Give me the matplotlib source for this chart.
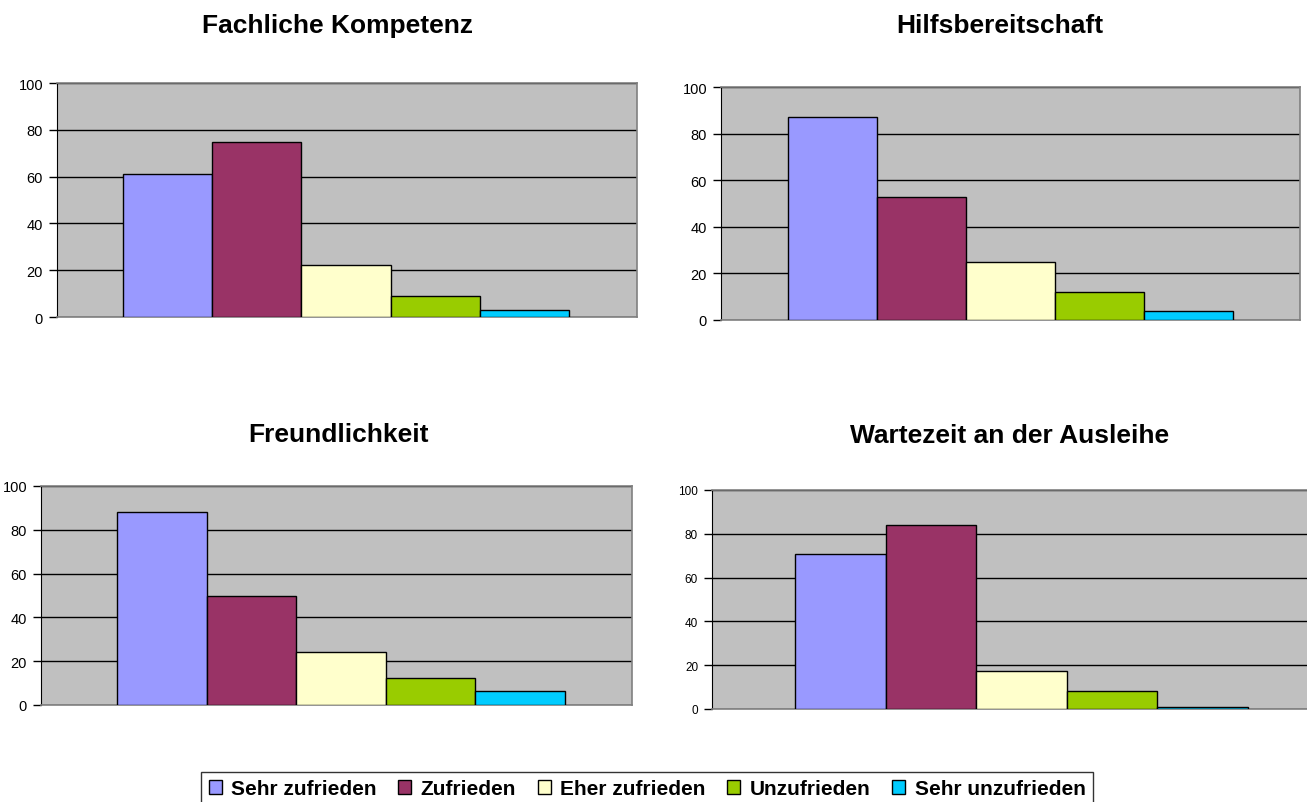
import matplotlib
matplotlib.use("Agg")
import matplotlib.pyplot as plt
from matplotlib.patches import Patch
import numpy as np

plt.rcParams.update({
    "font.family": ["Liberation Sans", "DejaVu Sans"],
    "font.size": 10,
})

# ---- data (percent per answer category) ----
labels = ["Sehr zufrieden", "Zufrieden", "Eher zufrieden", "Unzufrieden", "Sehr unzufrieden"]
colors = ["#9999FF", "#993366", "#FFFFCC", "#99CC00", "#00CCFF"]
titles = ["Fachliche Kompetenz", "Hilfsbereitschaft", "Freundlichkeit", "Wartezeit an der Ausleihe"]
fachlich = [61.0, 74.6, 22.1, 8.8, 3.0]
hilfe = [87.0, 52.8, 24.8, 11.9, 3.8]
freundlich = [87.9, 49.8, 24.4, 12.4, 6.4]
wartezeit = [71.0, 83.9, 17.5, 8.0, 0.9]
series = [fachlich, hilfe, freundlich, wartezeit]
yticks = [0, 20, 40, 60, 80, 100]

# layout in pixels: axes box (left, top, right, bottom), bar span (left, right)
W, H = 1307, 803
boxes_px = [(57, 84, 637, 318), (721, 88, 1300, 321),
            (41, 487, 632, 706), (712, 491, 1331, 710)]
bars_px = [(123, 569), (788, 1233), (117, 565), (795, 1248)]
title_px = [(338, 33), (1000, 33), (339, 442), (1010, 443)]
tick_fs = [10.5, 10.5, 10.5, 8.5]

fig = plt.figure(figsize=(W / 100, H / 100), dpi=100)

for vals, (l, t, r, b), (bl, br), title, (tx, ty), fs in zip(
        series, boxes_px, bars_px, titles, title_px, tick_fs):
    ax = fig.add_axes([l / W, 1 - b / H, (r - l) / W, (b - t) / H])
    ax.set_facecolor("#C0C0C0")
    x = np.arange(len(vals))
    ax.bar(x, vals, 1.0, color=colors, edgecolor="#000000", linewidth=1.0, zorder=3)
    ppu = (br - bl) / len(vals)
    ax.set_xlim(-0.5 - (bl - l) / ppu, len(vals) - 0.5 + (r - br) / ppu)
    ax.set_ylim(0, 100)
    ax.set_yticks(yticks)
    ax.set_xticks([])
    ax.tick_params(axis="y", length=6, width=1, labelsize=fs, pad=4, color="#000000")
    ax.grid(axis="y", color="#000000", linewidth=1.0, zorder=1)
    for s in ["top", "right", "bottom"]:
        ax.spines[s].set_color("#808080")
        ax.spines[s].set_linewidth(1.2)
    ax.spines["left"].set_color("#000000")
    fig.text(tx / W, 1 - ty / H, title, ha="center", va="baseline",
             fontsize=19, fontweight="bold")

handles = [Patch(facecolor=c, edgecolor="#000000", linewidth=1.0) for c in colors]
leg = fig.legend(handles, labels, loc="upper center", bbox_to_anchor=(647 / W, 1 - 773 / H),
                 ncol=5, frameon=True, fancybox=False, edgecolor="#000000",
                 prop={"weight": "bold", "size": 15}, handlelength=0.62, handleheight=0.62,
                 handletextpad=0.45, columnspacing=1.05, borderpad=0.35, borderaxespad=0)
leg.get_frame().set_linewidth(1.0)

fig.savefig("out.png", dpi=100)
